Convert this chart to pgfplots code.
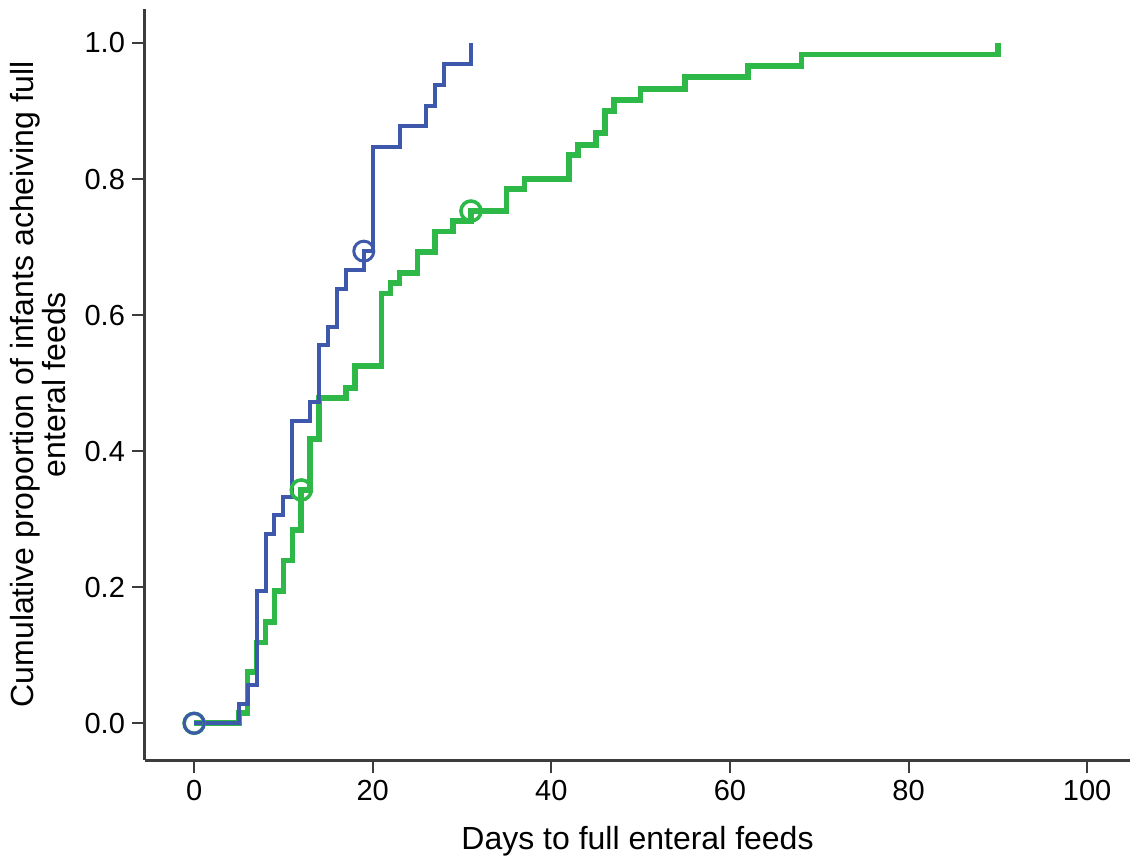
\documentclass[border=0pt]{standalone}
\usepackage{fontspec}
\setmainfont{Liberation Sans}
\usepackage{pgfplots}
\pgfplotsset{compat=1.18}
\definecolor{kmblue}{RGB}{62,88,172}
\definecolor{kmgreen}{RGB}{46,184,72}
\definecolor{axgray}{RGB}{60,60,60}
\begin{document}
\begin{tikzpicture}
\begin{axis}[
  at={(0,0)}, anchor=south west,
  scale only axis, width=492.5pt, height=375.5pt,
  xmin=-5.5, xmax=104.8, ymin=-0.054, ymax=1.05,
  axis lines=left,
  axis line style={-, line width=1.5pt, axgray},
  xtick={0,20,40,60,80,100},
  ytick={0,0.2,0.4,0.6,0.8,1},
  tick align=outside, major tick length=6.5pt,
  tick style={line width=1pt, axgray},
  /pgf/number format/assume math mode=true,
  ticklabel style={font=\fontsize{14.5}{17}\selectfont, text=black},
  yticklabel style={/pgf/number format/.cd, fixed, fixed zerofill, precision=1},
  xlabel={Days to full enteral feeds},
  xlabel style={at={(axis description cs:0.5,-0.1198)}, anchor=base, inner sep=0pt, font=\fontsize{16}{19}\selectfont},
  ylabel={Cumulative proportion of infants acheiving full\\enteral feeds},
  ylabel style={at={(axis description cs:-0.0802,0.5)}, anchor=south, inner sep=0pt, align=center, font=\fontsize{16}{14}\selectfont},
  clip=false,
]
% green series
\addplot[kmgreen, line width=2.8pt, const plot, mark=none] coordinates {
(0,0) (5,0.015) (6,0.075) (7,0.119) (8,0.149) (9,0.194) (10,0.239) (11,0.284)
(12,0.343) (13,0.418) (14,0.478) (17,0.493) (18,0.525) (21,0.632) (22,0.647)
(23,0.662) (25,0.693) (27,0.723) (29,0.738) (31,0.753) (35,0.785) (37,0.800)
(42,0.835) (43,0.850) (45,0.868) (46,0.900) (47,0.916) (50,0.932) (55,0.950)
(62,0.966) (68,0.983) (90,1.0)
};
\addplot[kmgreen, only marks, mark=o, mark size=5pt, mark options={line width=1.8pt}] coordinates {
(0,0) (12,0.343) (31,0.753)
};
% blue series
\addplot[kmblue, line width=2pt, const plot, mark=none] coordinates {
(0,0) (5,0.028) (6,0.056) (7,0.194) (8,0.278) (9,0.306) (10,0.333) (11,0.444)
(13,0.472) (14,0.556) (15,0.583) (16,0.639) (17,0.667) (19,0.694) (20,0.847)
(23,0.878) (26,0.908) (27,0.939) (28,0.969) (31,1.0)
};
\addplot[kmblue, only marks, mark=o, mark size=5pt, mark options={line width=1.5pt}] coordinates {
(0,0) (19,0.694)
};
\end{axis}
\pgfresetboundingbox
\path (-72.5pt,-48.5pt) rectangle (492.5pt,380pt);
\end{tikzpicture}
\end{document}
